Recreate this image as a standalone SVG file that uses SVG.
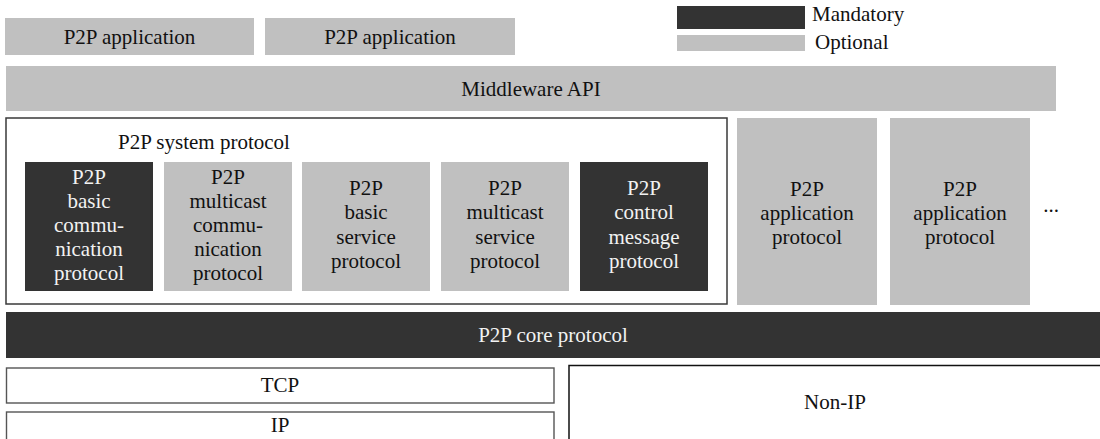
<svg xmlns="http://www.w3.org/2000/svg" width="1100" height="439" viewBox="0 0 1100 439">
  <style>
    .opt { fill: #c0c0c0; }
    .man { fill: #333333; }
    .frame { fill: #ffffff; stroke: #3a3a3a; stroke-width: 1.5; }
    .thin { fill: #ffffff; stroke: #555555; stroke-width: 1.4; }
  </style>
  <rect width="1100" height="439" fill="#ffffff"/>

  <g font-family="Liberation Serif, Times New Roman, serif" font-size="21" fill="#111111" text-anchor="middle">

  <!-- legend -->
  <g id="legend">
    <rect class="man" x="677" y="6" width="128" height="23"/>
    <text x="812" y="21" text-anchor="start" font-family="Liberation Serif, serif">Mandatory</text>
    <rect class="opt" x="677" y="35" width="128" height="16"/>
    <text x="815" y="49" text-anchor="start" font-family="Liberation Serif, serif">Optional</text>
  </g>

  <!-- applications -->
  <g id="app1">
    <rect class="opt" x="5" y="18" width="249" height="37"/>
    <text x="129.5" y="44" font-family="Liberation Serif, serif">P2P application</text>
  </g>
  <g id="app2">
    <rect class="opt" x="265" y="18" width="250" height="37"/>
    <text x="390" y="44" font-family="Liberation Serif, serif">P2P application</text>
  </g>

  <g id="middleware">
    <rect class="opt" x="6" y="66" width="1050" height="45"/>
    <text x="531" y="96" font-family="Liberation Serif, serif">Middleware API</text>
  </g>

  <!-- system protocol container -->
  <g id="system-protocol">
    <rect class="frame" x="6" y="118" width="721" height="186"/>
    <text x="118" y="149" text-anchor="start" font-family="Liberation Serif, serif">P2P system protocol</text>
  </g>

  <g id="basic-communication">
    <rect class="man" x="25" y="162" width="128" height="129"/>
    <text x="89" y="184" fill="#f2f2f2" font-family="Liberation Serif, serif">P2P<tspan x="89" dy="24">basic</tspan><tspan x="89" dy="24">commu-</tspan><tspan x="89" dy="24">nication</tspan><tspan x="89" dy="24">protocol</tspan></text>
  </g>
  <g id="multicast-communication">
    <rect class="opt" x="164" y="162" width="128" height="129"/>
    <text x="228" y="184" font-family="Liberation Serif, serif">P2P<tspan x="228" dy="24">multicast</tspan><tspan x="228" dy="24">commu-</tspan><tspan x="228" dy="24">nication</tspan><tspan x="228" dy="24">protocol</tspan></text>
  </g>
  <g id="basic-service">
    <rect class="opt" x="302" y="162" width="128" height="129"/>
    <text x="366" y="195" font-family="Liberation Serif, serif">P2P<tspan x="366" dy="24.3">basic</tspan><tspan x="366" dy="24.3">service</tspan><tspan x="366" dy="24.3">protocol</tspan></text>
  </g>
  <g id="multicast-service">
    <rect class="opt" x="441" y="162" width="128" height="129"/>
    <text x="505" y="195" font-family="Liberation Serif, serif">P2P<tspan x="505" dy="24.3">multicast</tspan><tspan x="505" dy="24.3">service</tspan><tspan x="505" dy="24.3">protocol</tspan></text>
  </g>
  <g id="control-message">
    <rect class="man" x="580" y="162" width="128" height="129"/>
    <text x="644" y="195" fill="#f2f2f2" font-family="Liberation Serif, serif">P2P<tspan x="644" dy="24.3">control</tspan><tspan x="644" dy="24.3">message</tspan><tspan x="644" dy="24.3">protocol</tspan></text>
  </g>

  <g id="app-protocol-1">
    <rect class="opt" x="737" y="118" width="140" height="187"/>
    <text x="807" y="196" font-family="Liberation Serif, serif">P2P<tspan x="807" dy="24">application</tspan><tspan x="807" dy="24">protocol</tspan></text>
  </g>
  <g id="app-protocol-2">
    <rect class="opt" x="890" y="118" width="140" height="187"/>
    <text x="960" y="196" font-family="Liberation Serif, serif">P2P<tspan x="960" dy="24">application</tspan><tspan x="960" dy="24">protocol</tspan></text>
  </g>
  <g id="more">
    <text x="1051" y="212" font-family="Liberation Serif, serif">...</text>
  </g>

  <g id="core-protocol">
    <rect class="man" x="6" y="312" width="1094" height="46"/>
    <text x="553" y="342" fill="#f2f2f2" font-family="Liberation Serif, serif">P2P core protocol</text>
  </g>

  <g id="tcp">
    <rect class="thin" x="6.5" y="368" width="547.5" height="35"/>
    <text x="280" y="392" font-family="Liberation Serif, serif">TCP</text>
  </g>
  <g id="ip">
    <rect class="thin" x="6.5" y="412" width="547.5" height="40"/>
    <text x="280" y="432" font-family="Liberation Serif, serif">IP</text>
  </g>
  <g id="non-ip">
    <rect x="569" y="365.5" width="540" height="90" fill="#ffffff" stroke="#111111" stroke-width="1.5"/>
    <text x="835" y="409" font-family="Liberation Serif, serif">Non-IP</text>
  </g>

  </g>
</svg>
